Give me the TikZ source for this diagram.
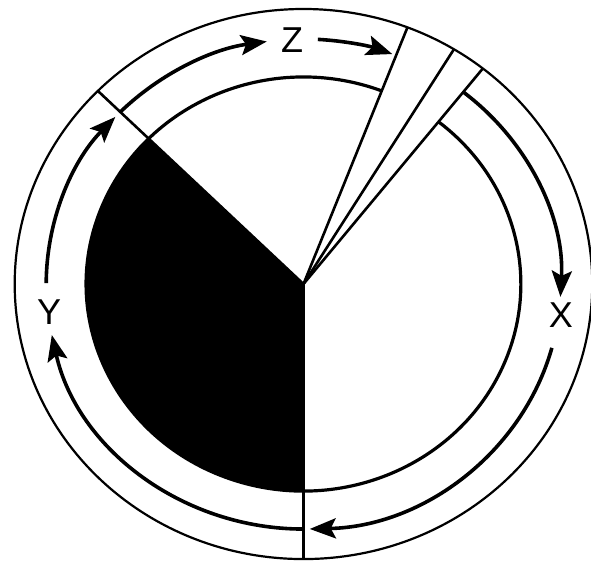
\documentclass[tikz,border=0pt]{standalone}
\usepackage{fontspec}
\newfontfamily\axisfont{Liberation Sans}
\usetikzlibrary{arrows.meta}

\begin{document}
\begin{tikzpicture}[x=0.525pt,y=0.5pt,>={Stealth[length=13pt,width=10pt,inset=2.5pt]},
  ring/.style={line width=1.1pt},
  rim/.style={line width=1.6pt},
  spoke/.style={line width=1.3pt},
  flow/.style={->,line width=1.8pt},
  axislabel/.style={font=\axisfont\fontsize{18}{18}\selectfont,inner sep=0pt}]
  \useasboundingbox (-289,-282) rectangle (273.8,284);
  \coordinate (O) at (0,0);

  % Black sector (lower left)
  \fill (O) -- (135.4:207) arc[start angle=135.4,end angle=270,radius=207] -- cycle;

  % Outer rim
  \draw[ring] (O) circle[radius=275];

  % Inner disc, open between the outer spokes
  \draw[rim] (68.9:207) arc[start angle=68.9,end angle=411.6,radius=207];

  % Spokes from the centre
  \foreach \a in {135.4,68.9,58.6,51.6,270}
    \draw[spoke] (O) -- (\a:275);

  % Labels on the middle track
  \node[axislabel] (z) at (-10.8,244) {Z};
  \node[axislabel] (x) at (245,-31) {X};
  \node[axislabel] (y) at (-242.2,-27.7) {Y};

  % Track arrows
  \draw[flow] (135.4:245) arc[start angle=135.4,end angle=98.2,radius=245];
  \draw[flow] (86.8:245) arc[start angle=86.8,end angle=69.8,radius=245];
  \draw[flow] (51.6:245) arc[start angle=51.6,end angle=-3,radius=245];
  \draw[flow] (-15.1:245) arc[start angle=-15.1,end angle=-88.6,radius=245];
  \draw[flow] (-90:245) arc[start angle=-90,end angle=-168,radius=245];
  \draw[flow] (179.8:245) arc[start angle=179.8,end angle=137,radius=245];
\end{tikzpicture}
\end{document}
